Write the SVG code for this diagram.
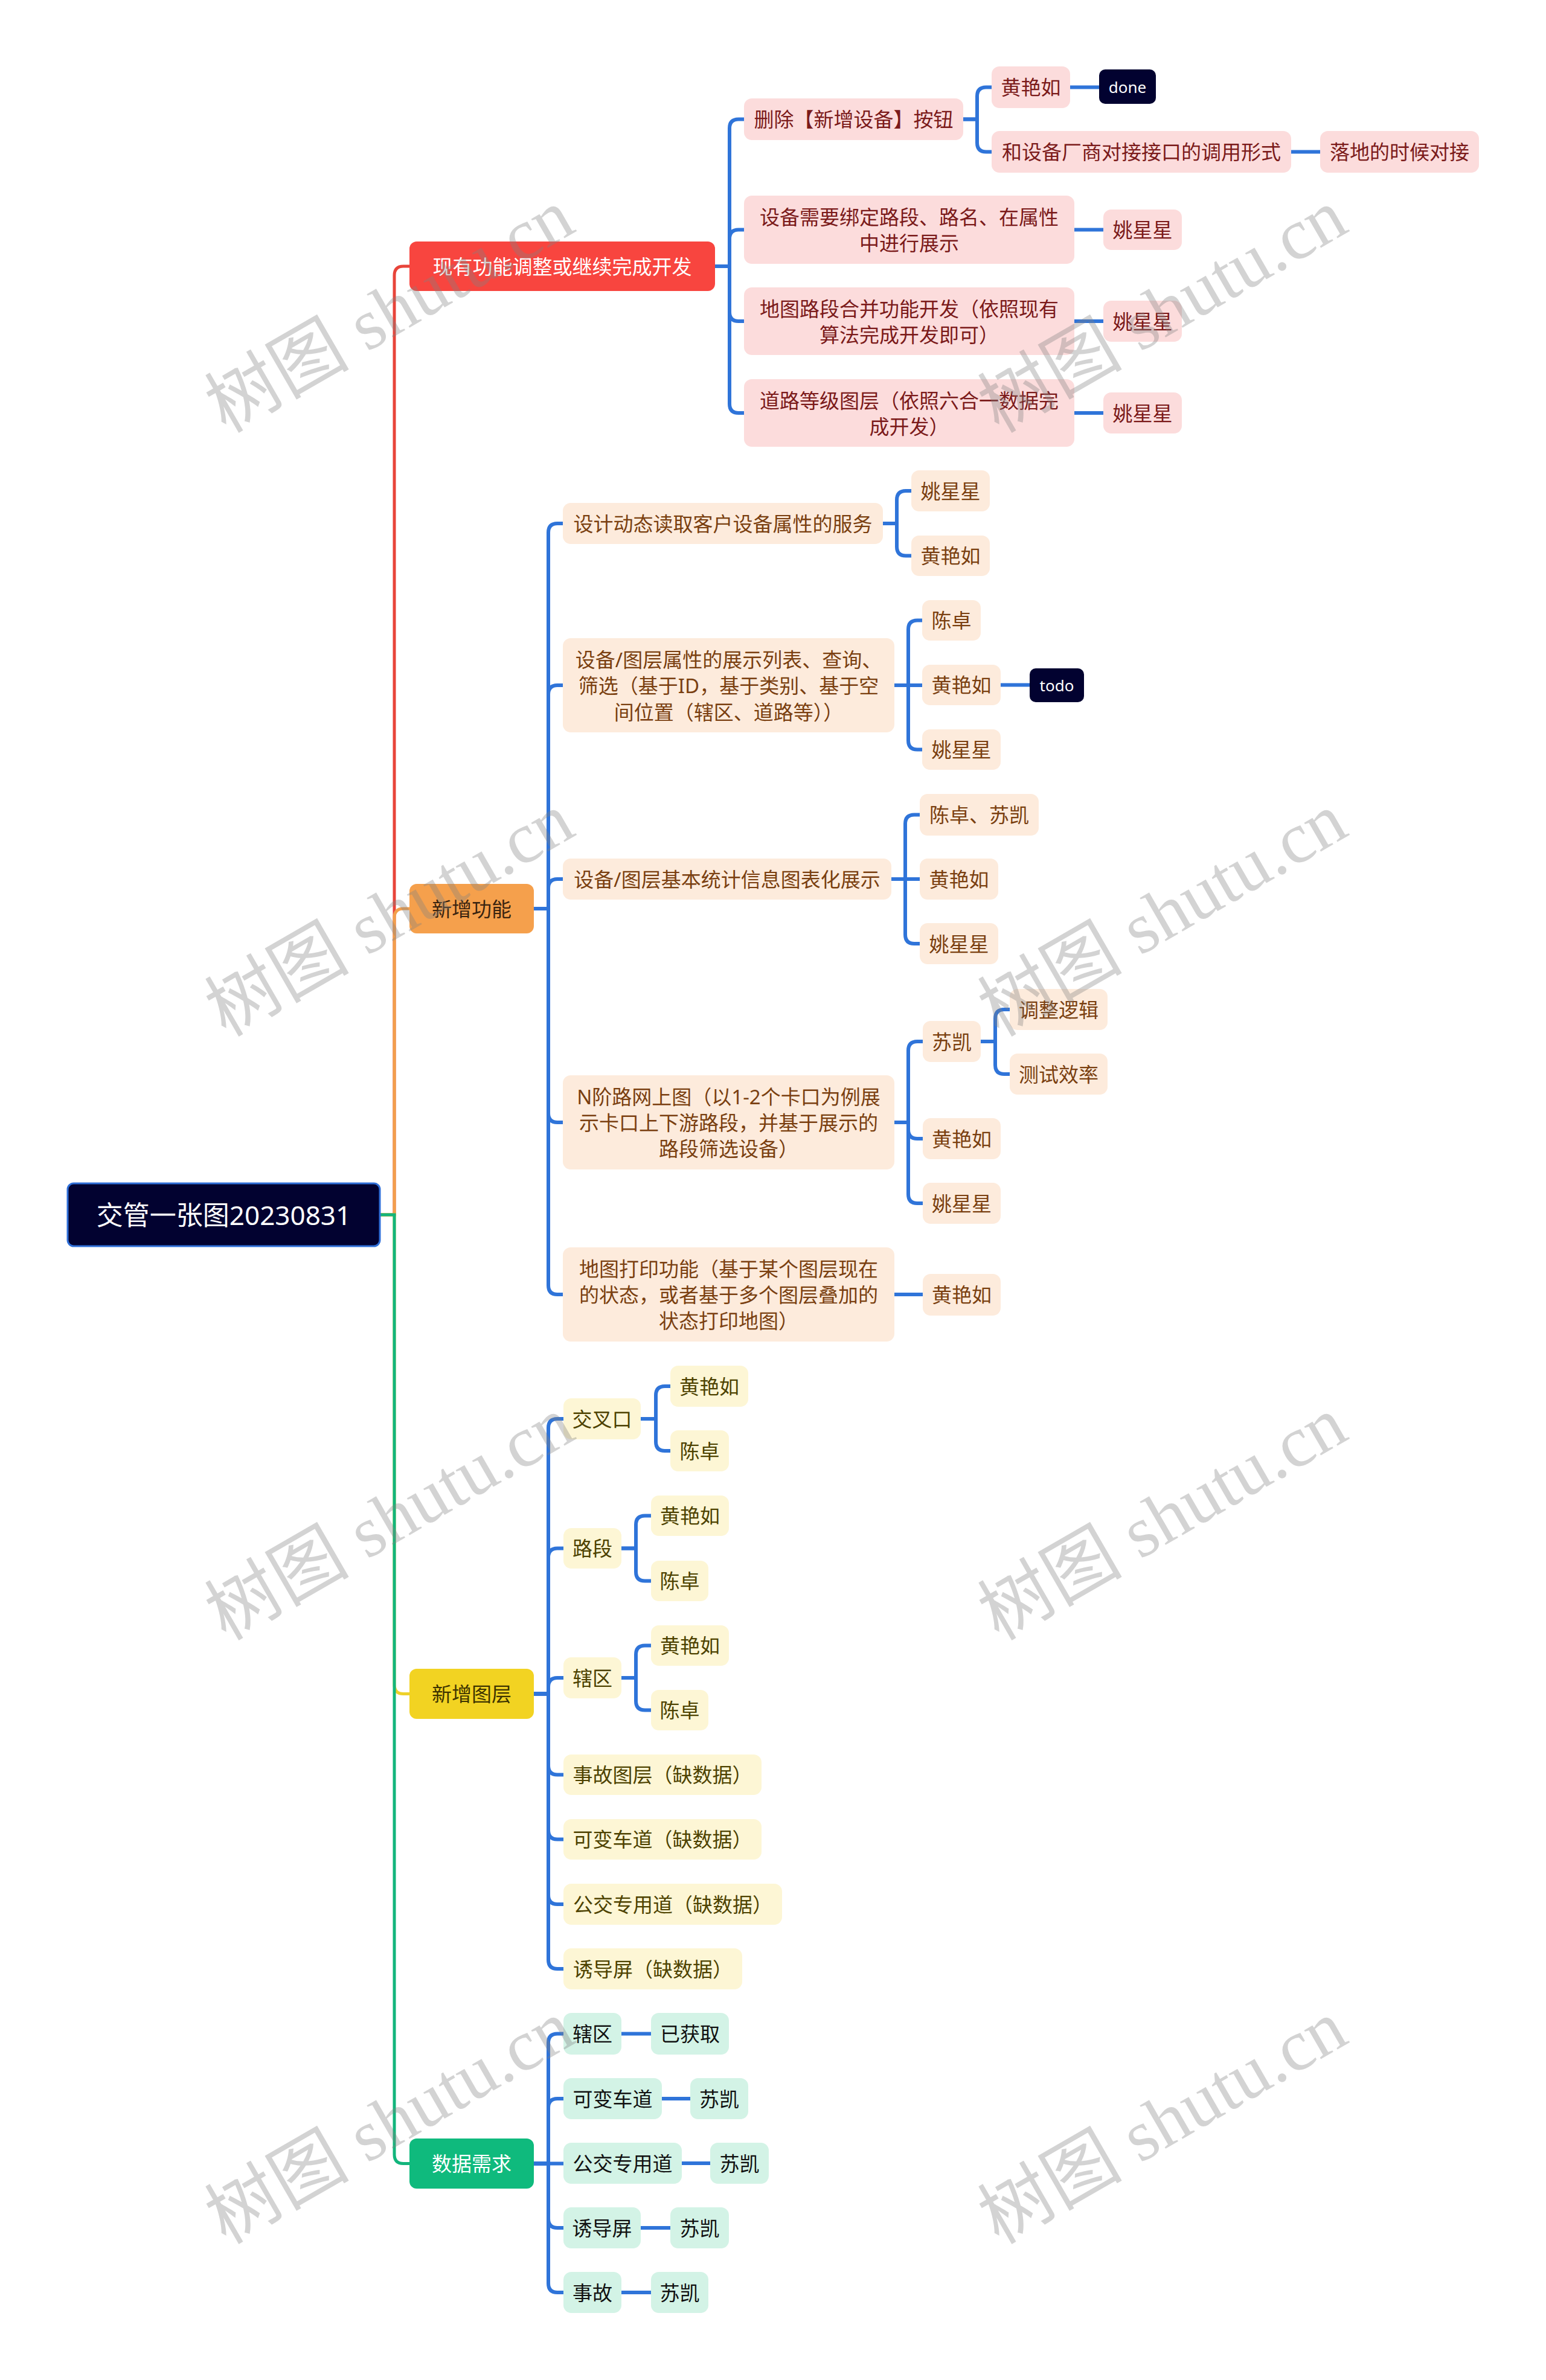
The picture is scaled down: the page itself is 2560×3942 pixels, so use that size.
<svg xmlns="http://www.w3.org/2000/svg" width="2560" height="3942" viewBox="0 0 2560 3942">
<style>
text{font-family:"Noto Sans","Noto Sans CJK SC",sans-serif;text-anchor:middle;dominant-baseline:central;font-size:33px}
.troot{font-size:44px;fill:#ffffff}
.c{fill:none;stroke:#2f74d9;stroke-width:6}
.m{fill:none;stroke-width:5}
.pk{fill:#fcdcdc}.tpk{fill:#7b1a1a}
.pc{fill:#fdebdc}.tpc{fill:#7a3f10}
.yl{fill:#fdf6d5}.tyl{fill:#4d4200}
.mt{fill:#d3f3e6}.tmt{fill:#111111}
.tag{fill:#020230}.ttag{fill:#ffffff;font-size:26px}
.wm{font-family:"Liberation Serif","Noto Sans CJK SC",serif;font-size:120px;fill:#808080;fill-opacity:0.35}
</style>
<rect width="2560" height="3942" fill="#ffffff"/>
<g id="connectors">
<path class="m" stroke="#e8443a" d="M629,2012 H653 V456 Q653,441 668,441 H678"/>
<path class="m" stroke="#f29f4c" d="M629,2012 H653 V1520 Q653,1505 668,1505 H678"/>
<path class="m" stroke="#eed12a" d="M629,2012 H653 V2790.5 Q653,2805.5 668,2805.5 H678"/>
<path class="m" stroke="#12b57c" d="M629,2012 H653 V3568.5 Q653,3583.5 668,3583.5 H678"/>
<path class="c" d="M1184,441 H1208 V212.5 Q1208,197.5 1223,197.5 H1232"/>
<path class="c" d="M1184,441 H1208 V395.5 Q1208,380.5 1223,380.5 H1232"/>
<path class="c" d="M1184,441 H1208 V517 Q1208,532 1223,532 H1232"/>
<path class="c" d="M1184,441 H1208 V669 Q1208,684 1223,684 H1232"/>
<path class="c" d="M1595,197.5 H1618 V159.5 Q1618,144.5 1633,144.5 H1642"/>
<path class="c" d="M1595,197.5 H1618 V236.5 Q1618,251.5 1633,251.5 H1642"/>
<path class="c" d="M1772,144.5 H1820"/>
<path class="c" d="M2138,251.5 H2186"/>
<path class="c" d="M1779,380.5 H1827"/>
<path class="c" d="M1779,532 H1827"/>
<path class="c" d="M1779,684 H1827"/>
<path class="c" d="M884,1505 H908 V882 Q908,867 923,867 H932"/>
<path class="c" d="M884,1505 H908 V1150 Q908,1135 923,1135 H932"/>
<path class="c" d="M884,1505 H908 V1471 Q908,1456 923,1456 H932"/>
<path class="c" d="M884,1505 H908 V1844 Q908,1859 923,1859 H932"/>
<path class="c" d="M884,1505 H908 V2129 Q908,2144 923,2144 H932"/>
<path class="c" d="M1462,867 H1485 V828 Q1485,813 1500,813 H1509"/>
<path class="c" d="M1462,867 H1485 V905.5 Q1485,920.5 1500,920.5 H1509"/>
<path class="c" d="M1481,1135 H1504 V1042.5 Q1504,1027.5 1519,1027.5 H1527"/>
<path class="c" d="M1481,1135 H1527"/>
<path class="c" d="M1481,1135 H1504 V1226.5 Q1504,1241.5 1519,1241.5 H1527"/>
<path class="c" d="M1657,1134.5 H1705"/>
<path class="c" d="M1476,1456 H1499 V1364.5 Q1499,1349.5 1514,1349.5 H1523"/>
<path class="c" d="M1476,1456 H1523"/>
<path class="c" d="M1476,1456 H1499 V1548 Q1499,1563 1514,1563 H1523"/>
<path class="c" d="M1481,1859 H1504 V1740 Q1504,1725 1519,1725 H1528"/>
<path class="c" d="M1481,1859 H1504 V1871 Q1504,1886 1519,1886 H1528"/>
<path class="c" d="M1481,1859 H1504 V1978 Q1504,1993 1519,1993 H1528"/>
<path class="c" d="M1624,1725 H1648 V1687 Q1648,1672 1663,1672 H1672"/>
<path class="c" d="M1624,1725 H1648 V1764 Q1648,1779 1663,1779 H1672"/>
<path class="c" d="M1481,2144 H1528"/>
<path class="c" d="M884,2805.5 H908 V2365 Q908,2350 923,2350 H933"/>
<path class="c" d="M884,2805.5 H908 V2579.5 Q908,2564.5 923,2564.5 H933"/>
<path class="c" d="M884,2805.5 H908 V2794 Q908,2779 923,2779 H933"/>
<path class="c" d="M884,2805.5 H908 V2924.5 Q908,2939.5 923,2939.5 H933"/>
<path class="c" d="M884,2805.5 H908 V3031.5 Q908,3046.5 923,3046.5 H933"/>
<path class="c" d="M884,2805.5 H908 V3139 Q908,3154 923,3154 H933"/>
<path class="c" d="M884,2805.5 H908 V3246 Q908,3261 923,3261 H933"/>
<path class="c" d="M1061,2350 H1086 V2311 Q1086,2296 1101,2296 H1110"/>
<path class="c" d="M1061,2350 H1086 V2388 Q1086,2403 1101,2403 H1110"/>
<path class="c" d="M1029,2564.5 H1053 V2525.5 Q1053,2510.5 1068,2510.5 H1078"/>
<path class="c" d="M1029,2564.5 H1053 V2603.5 Q1053,2618.5 1068,2618.5 H1078"/>
<path class="c" d="M1029,2779 H1053 V2740.5 Q1053,2725.5 1068,2725.5 H1078"/>
<path class="c" d="M1029,2779 H1053 V2817.5 Q1053,2832.5 1068,2832.5 H1078"/>
<path class="c" d="M884,3583.5 H908 V3383.5 Q908,3368.5 923,3368.5 H933"/>
<path class="c" d="M884,3583.5 H908 V3491 Q908,3476 923,3476 H933"/>
<path class="c" d="M884,3583.5 H933"/>
<path class="c" d="M884,3583.5 H908 V3675 Q908,3690 923,3690 H933"/>
<path class="c" d="M884,3583.5 H908 V3782 Q908,3797 923,3797 H933"/>
<path class="c" d="M1029,3368.5 H1078"/>
<path class="c" d="M1096,3476 H1143"/>
<path class="c" d="M1129,3583 H1176"/>
<path class="c" d="M1061,3690 H1110"/>
<path class="c" d="M1029,3797 H1078"/>
</g>
<g id="root"><rect x="112" y="1960" width="517" height="104" rx="10" fill="#020230" stroke="#2f6fd8" stroke-width="3"/><text class="troot" x="370.5" y="2012">交管一张图20230831</text></g>
<g id="n-red"><rect x="678" y="400" width="506" height="82" rx="12" fill="#f8453f"/><text x="931" y="441" fill="#ffffff">现有功能调整或继续完成开发</text></g>
<g id="n-orange"><rect x="678" y="1464" width="206" height="82" rx="12" fill="#f5a04c"/><text x="781" y="1505" fill="#3a2410">新增功能</text></g>
<g id="n-yellow"><rect x="678" y="2764" width="206" height="83" rx="12" fill="#f2d322"/><text x="781" y="2805.5" fill="#3d3300">新增图层</text></g>
<g id="n-green"><rect x="678" y="3542" width="206" height="83" rx="12" fill="#0fba7d"/><text x="781" y="3583.5" fill="#ffffff">数据需求</text></g>

<g id="r1"><rect class="pk" x="1232" y="163" width="363" height="69" rx="13"/><text class="tpk" x="1413.5" y="197.5">删除【新增设备】按钮</text></g>
<g id="r1a"><rect class="pk" x="1642" y="110" width="130" height="69" rx="13"/><text class="tpk" x="1707" y="144.5">黄艳如</text></g>
<g id="r1a-tag"><rect class="tag" x="1820" y="115" width="94" height="57" rx="10"/><text class="ttag" x="1867" y="143.5">done</text></g>
<g id="r1b"><rect class="pk" x="1642" y="217" width="496" height="69" rx="13"/><text class="tpk" x="1890" y="251.5">和设备厂商对接接口的调用形式</text></g>
<g id="r1b1"><rect class="pk" x="2186" y="217" width="263" height="69" rx="13"/><text class="tpk" x="2317.5" y="251.5">落地的时候对接</text></g>
<g id="r2"><rect class="pk" x="1232" y="324" width="547" height="113" rx="13"/><text class="tpk"><tspan x="1505.5" y="359">设备需要绑定路段、路名、在属性</tspan><tspan x="1505.5" y="402">中进行展示</tspan></text></g>
<g id="r2a"><rect class="pk" x="1827" y="347" width="130" height="67" rx="13"/><text class="tpk" x="1892" y="380.5">姚星星</text></g>
<g id="r3"><rect class="pk" x="1232" y="476" width="547" height="112" rx="13"/><text class="tpk"><tspan x="1505.5" y="510.5">地图路段合并功能开发（依照现有</tspan><tspan x="1505.5" y="553.5">算法完成开发即可）</tspan></text></g>
<g id="r3a"><rect class="pk" x="1827" y="498" width="130" height="68" rx="13"/><text class="tpk" x="1892" y="532">姚星星</text></g>
<g id="r4"><rect class="pk" x="1232" y="628" width="547" height="112" rx="13"/><text class="tpk"><tspan x="1505.5" y="662.5">道路等级图层（依照六合一数据完</tspan><tspan x="1505.5" y="705.5">成开发）</tspan></text></g>
<g id="r4a"><rect class="pk" x="1827" y="650" width="130" height="68" rx="13"/><text class="tpk" x="1892" y="684">姚星星</text></g>

<g id="oa"><rect class="pc" x="932" y="833" width="530" height="68" rx="13"/><text class="tpc" x="1197" y="867">设计动态读取客户设备属性的服务</text></g>
<g id="oa1"><rect class="pc" x="1509" y="779" width="130" height="68" rx="13"/><text class="tpc" x="1574" y="813">姚星星</text></g>
<g id="oa2"><rect class="pc" x="1509" y="887" width="130" height="67" rx="13"/><text class="tpc" x="1574" y="920.5">黄艳如</text></g>
<g id="ob"><rect class="pc" x="932" y="1057" width="549" height="156" rx="13"/><text class="tpc"><tspan x="1206.5" y="1091.5">设备/图层属性的展示列表、查询、</tspan><tspan x="1206.5" y="1135">筛选（基于ID，基于类别、基于空</tspan><tspan x="1206.5" y="1178.5">间位置（辖区、道路等））</tspan></text></g>
<g id="ob1"><rect class="pc" x="1527" y="994" width="97" height="67" rx="13"/><text class="tpc" x="1575.5" y="1027.5">陈卓</text></g>
<g id="ob2"><rect class="pc" x="1527" y="1101" width="130" height="67" rx="13"/><text class="tpc" x="1592" y="1134.5">黄艳如</text></g>
<g id="ob2-tag"><rect class="tag" x="1705" y="1107" width="90" height="56" rx="10"/><text class="ttag" x="1750" y="1134.5">todo</text></g>
<g id="ob3"><rect class="pc" x="1527" y="1208" width="130" height="67" rx="13"/><text class="tpc" x="1592" y="1241.5">姚星星</text></g>
<g id="oc"><rect class="pc" x="932" y="1422" width="544" height="68" rx="13"/><text class="tpc" x="1204" y="1456">设备/图层基本统计信息图表化展示</text></g>
<g id="oc1"><rect class="pc" x="1523" y="1315" width="197" height="69" rx="13"/><text class="tpc" x="1621.5" y="1349.5">陈卓、苏凯</text></g>
<g id="oc2"><rect class="pc" x="1523" y="1422" width="130" height="68" rx="13"/><text class="tpc" x="1588" y="1456">黄艳如</text></g>
<g id="oc3"><rect class="pc" x="1523" y="1529" width="130" height="68" rx="13"/><text class="tpc" x="1588" y="1563">姚星星</text></g>
<g id="od"><rect class="pc" x="932" y="1781" width="549" height="156" rx="13"/><text class="tpc"><tspan x="1206.5" y="1816">N阶路网上图（以1-2个卡口为例展</tspan><tspan x="1206.5" y="1859">示卡口上下游路段，并基于展示的</tspan><tspan x="1206.5" y="1902">路段筛选设备）</tspan></text></g>
<g id="od1"><rect class="pc" x="1528" y="1691" width="96" height="68" rx="13"/><text class="tpc" x="1576" y="1725">苏凯</text></g>
<g id="od1a"><rect class="pc" x="1672" y="1638" width="162" height="68" rx="13"/><text class="tpc" x="1753" y="1672">调整逻辑</text></g>
<g id="od1b"><rect class="pc" x="1672" y="1745" width="162" height="68" rx="13"/><text class="tpc" x="1753" y="1779">测试效率</text></g>
<g id="od2"><rect class="pc" x="1528" y="1852" width="129" height="68" rx="13"/><text class="tpc" x="1592.5" y="1886">黄艳如</text></g>
<g id="od3"><rect class="pc" x="1528" y="1959" width="129" height="68" rx="13"/><text class="tpc" x="1592.5" y="1993">姚星星</text></g>
<g id="oe"><rect class="pc" x="932" y="2066" width="549" height="156" rx="13"/><text class="tpc"><tspan x="1206.5" y="2101">地图打印功能（基于某个图层现在</tspan><tspan x="1206.5" y="2144">的状态，或者基于多个图层叠加的</tspan><tspan x="1206.5" y="2187">状态打印地图）</tspan></text></g>
<g id="oe1"><rect class="pc" x="1528" y="2110" width="129" height="69" rx="13"/><text class="tpc" x="1592.5" y="2144.5">黄艳如</text></g>

<g id="y1"><rect class="yl" x="933" y="2316" width="128" height="68" rx="13"/><text class="tyl" x="997" y="2350">交叉口</text></g>
<g id="y1a"><rect class="yl" x="1110" y="2262" width="129" height="68" rx="13"/><text class="tyl" x="1174.5" y="2296">黄艳如</text></g>
<g id="y1b"><rect class="yl" x="1110" y="2369" width="97" height="68" rx="13"/><text class="tyl" x="1158.5" y="2403">陈卓</text></g>
<g id="y2"><rect class="yl" x="933" y="2531" width="96" height="67" rx="13"/><text class="tyl" x="981" y="2564.5">路段</text></g>
<g id="y2a"><rect class="yl" x="1078" y="2477" width="129" height="67" rx="13"/><text class="tyl" x="1142.5" y="2510.5">黄艳如</text></g>
<g id="y2b"><rect class="yl" x="1078" y="2585" width="95" height="67" rx="13"/><text class="tyl" x="1125.5" y="2618.5">陈卓</text></g>
<g id="y3"><rect class="yl" x="933" y="2745" width="96" height="68" rx="13"/><text class="tyl" x="981" y="2779">辖区</text></g>
<g id="y3a"><rect class="yl" x="1078" y="2692" width="129" height="67" rx="13"/><text class="tyl" x="1142.5" y="2725.5">黄艳如</text></g>
<g id="y3b"><rect class="yl" x="1078" y="2799" width="95" height="67" rx="13"/><text class="tyl" x="1125.5" y="2832.5">陈卓</text></g>
<g id="y4"><rect class="yl" x="933" y="2906" width="328" height="67" rx="13"/><text class="tyl" x="1097" y="2939.5">事故图层（缺数据）</text></g>
<g id="y5"><rect class="yl" x="933" y="3013" width="328" height="67" rx="13"/><text class="tyl" x="1097" y="3046.5">可变车道（缺数据）</text></g>
<g id="y6"><rect class="yl" x="933" y="3120" width="362" height="68" rx="13"/><text class="tyl" x="1114" y="3154">公交专用道（缺数据）</text></g>
<g id="y7"><rect class="yl" x="933" y="3227" width="296" height="68" rx="13"/><text class="tyl" x="1081" y="3261">诱导屏（缺数据）</text></g>

<g id="g1"><rect class="mt" x="933" y="3334" width="96" height="69" rx="13"/><text class="tmt" x="981" y="3368.5">辖区</text></g>
<g id="g1a"><rect class="mt" x="1078" y="3334" width="129" height="69" rx="13"/><text class="tmt" x="1142.5" y="3368.5">已获取</text></g>
<g id="g2"><rect class="mt" x="933" y="3442" width="163" height="68" rx="13"/><text class="tmt" x="1014.5" y="3476">可变车道</text></g>
<g id="g2a"><rect class="mt" x="1143" y="3442" width="96" height="68" rx="13"/><text class="tmt" x="1191" y="3476">苏凯</text></g>
<g id="g3"><rect class="mt" x="933" y="3549" width="196" height="68" rx="13"/><text class="tmt" x="1031" y="3583">公交专用道</text></g>
<g id="g3a"><rect class="mt" x="1176" y="3549" width="97" height="68" rx="13"/><text class="tmt" x="1224.5" y="3583">苏凯</text></g>
<g id="g4"><rect class="mt" x="933" y="3656" width="128" height="68" rx="13"/><text class="tmt" x="997" y="3690">诱导屏</text></g>
<g id="g4a"><rect class="mt" x="1110" y="3656" width="97" height="68" rx="13"/><text class="tmt" x="1158.5" y="3690">苏凯</text></g>
<g id="g5"><rect class="mt" x="933" y="3763" width="96" height="68" rx="13"/><text class="tmt" x="981" y="3797">事故</text></g>
<g id="g5a"><rect class="mt" x="1078" y="3763" width="95" height="68" rx="13"/><text class="tmt" x="1125.5" y="3797">苏凯</text></g>

<g id="watermarks">
<text class="wm" x="645" y="515" transform="rotate(-30 645 515)">树图 shutu.cn</text>
<text class="wm" x="1925" y="515" transform="rotate(-30 1925 515)">树图 shutu.cn</text>
<text class="wm" x="645" y="1515" transform="rotate(-30 645 1515)">树图 shutu.cn</text>
<text class="wm" x="1925" y="1515" transform="rotate(-30 1925 1515)">树图 shutu.cn</text>
<text class="wm" x="645" y="2515" transform="rotate(-30 645 2515)">树图 shutu.cn</text>
<text class="wm" x="1925" y="2515" transform="rotate(-30 1925 2515)">树图 shutu.cn</text>
<text class="wm" x="645" y="3515" transform="rotate(-30 645 3515)">树图 shutu.cn</text>
<text class="wm" x="1925" y="3515" transform="rotate(-30 1925 3515)">树图 shutu.cn</text>
</g>
</svg>
